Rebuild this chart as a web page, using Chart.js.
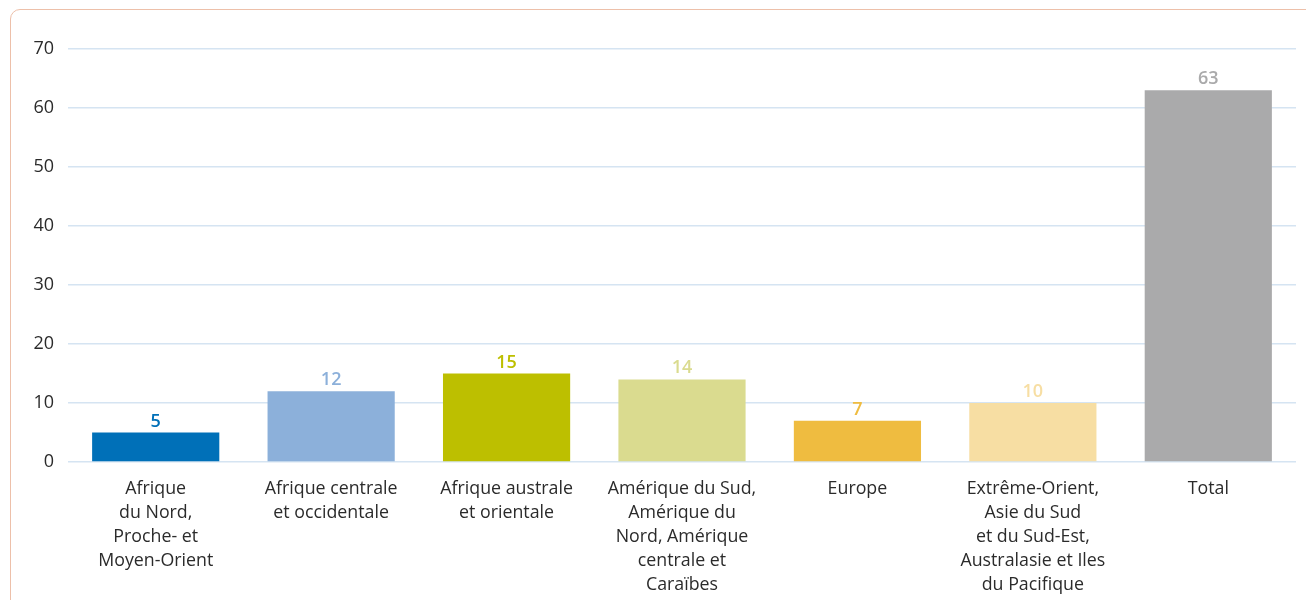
<!DOCTYPE html>
<html>
<head>
<meta charset="utf-8">
<script src="https://cdn.jsdelivr.net/npm/chart.js@4/dist/chart.umd.min.js"></script>
<style>
  html, body { margin: 0; padding: 0; background: #ffffff; overflow: hidden; }
  #wrap { position: relative; width: 1306px; height: 600px; }
  #frame { position: absolute; left: 10px; top: 9px; width: 1320px; height: 640px;
           border: 1.5px solid #edc0aa; border-radius: 10px; box-sizing: border-box; }
  canvas { position: absolute; left: 0; top: 0; }
</style>
</head>
<body>
<div id="wrap">
  <div id="frame"></div>
  <canvas id="c" width="1306" height="600"></canvas>
</div>
<script>
const categories = [
  ["Afrique", "du Nord,", "Proche- et", "Moyen-Orient"],
  ["Afrique centrale", "et occidentale"],
  ["Afrique australe", "et orientale"],
  ["Amérique du Sud,", "Amérique du", "Nord, Amérique", "centrale et", "Caraïbes"],
  ["Europe"],
  ["Extrême-Orient,", "Asie du Sud", "et du Sud-Est,", "Australasie et Iles", "du Pacifique"],
  ["Total"]
];
const values = [5, 12, 15, 14, 7, 10, 63];
const yTicks = [0, 10, 20, 30, 40, 50, 60, 70];
const barColors = ["#0070b8", "#8cb0da", "#bdbf00", "#dadb8f", "#efbc40", "#f7dea3", "#aaaaab"];

const FONT = "'Open Sans', 'Noto Sans', sans-serif";

const valueLabels = {
  id: 'valueLabels',
  afterDatasetsDraw(chart) {
    const ctx = chart.ctx;
    const meta = chart.getDatasetMeta(0);
    ctx.save();
    ctx.font = "600 18px " + FONT;
    ctx.textAlign = 'center';
    ctx.textBaseline = 'alphabetic';
    meta.data.forEach((bar, i) => {
      ctx.fillStyle = barColors[i];
      ctx.fillText(String(values[i]), bar.x, bar.y - 6);
    });
    ctx.restore();
  }
};

new Chart(document.getElementById('c'), {
  type: 'bar',
  data: {
    labels: categories,
    datasets: [{
      data: values,
      backgroundColor: barColors,
      borderWidth: 0,
      barPercentage: 0.725,
      categoryPercentage: 1.0
    }]
  },
  options: {
    responsive: false,
    animation: false,
    devicePixelRatio: 1,
    layout: { padding: { left: 0, top: 49, right: 10, bottom: 0 } },
    plugins: { legend: { display: false }, tooltip: { enabled: false } },
    scales: {
      x: {
        grid: { display: false },
        border: { display: false },
        ticks: {
          color: '#2b2b2b',
          font: { family: FONT, size: 17.8, lineHeight: 1.345 },
          padding: 7,
          maxRotation: 0,
          autoSkip: false
        },
        afterFit(s) { s.height = 138; }
      },
      y: {
        min: 0, max: 70,
        afterBuildTicks(s) { s.ticks = yTicks.map(v => ({ value: v })); },
        grid: { color: '#d5e4f2', lineWidth: 1.5, drawTicks: false },
        border: { display: false },
        ticks: {
          color: '#2b2b2b',
          font: { family: FONT, size: 18 },
          padding: 14
        },
        afterFit(s) { s.width = 68; }
      }
    }
  },
  plugins: [valueLabels]
});
</script>
</body>
</html>
